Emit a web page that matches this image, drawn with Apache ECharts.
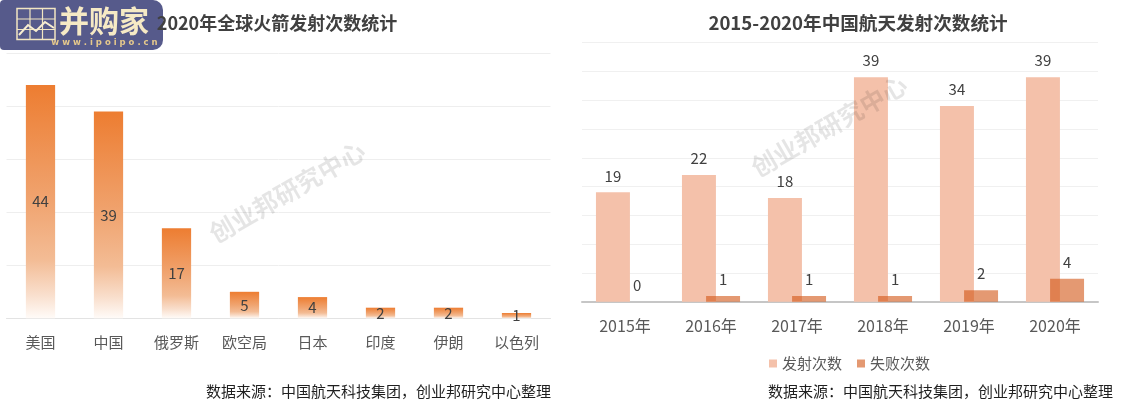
<!DOCTYPE html>
<html>
<head>
<meta charset="utf-8">
<style>
html,body{margin:0;padding:0;background:#fff;}
#main{width:1147px;height:407px;}
</style>
<script src="https://cdn.jsdelivr.net/npm/echarts@6/dist/echarts.min.js"></script>
</head>
<body>
<div id="main"></div>
<script>
// ---- data ----
var countries = ['美国', '中国', '俄罗斯', '欧空局', '日本', '印度', '伊朗', '以色列'];
var launches2020 = [44, 39, 17, 5, 4, 2, 2, 1];
var years = ['2015年', '2016年', '2017年', '2018年', '2019年', '2020年'];
var chinaLaunches = [19, 22, 18, 39, 34, 39];
var chinaFailures = [0, 1, 1, 1, 2, 4];
var titleLeft = '2020年全球火箭发射次数统计';
var titleRight = '2015-2020年中国航天发射次数统计';
var sourceText = '数据来源：中国航天科技集团，创业邦研究中心整理';
var watermark = '创业邦研究中心';

var FONT = '"Noto Sans CJK SC", "Noto Sans", sans-serif';
var chart = echarts.init(document.getElementById('main'), null, {renderer: 'canvas'});

var leftGradient = new echarts.graphic.LinearGradient(0, 0, 0, 1, [
  {offset: 0, color: '#ED7D31'},
  {offset: 0.5, color: '#F0A470'},
  {offset: 0.75, color: '#F3BC95'},
  {offset: 0.9, color: '#F9DFCD'},
  {offset: 1, color: '#FFFBF8'}
]);

var option = {
  backgroundColor: '#ffffff',
  textStyle: {fontFamily: FONT},
  animation: false,
  title: [
    {text: titleLeft, left: 277, top: 14, textAlign: 'center', padding: 0,
     textStyle: {fontSize: 18, fontWeight: 'bold', color: '#404040', fontFamily: FONT}},
    {text: titleRight, left: 858, top: 14, textAlign: 'center', padding: 0,
     textStyle: {fontSize: 18.6, fontWeight: 'bold', color: '#404040', fontFamily: FONT}}
  ],
  legend: {
    data: ['发射次数', '失败次数'],
    left: 764, top: 351,
    icon: 'rect', itemWidth: 8, itemHeight: 8, itemGap: 15,
    textStyle: {fontSize: 15, color: '#595959', fontFamily: FONT}
  },
  grid: [
    {left: 6.5, right: 596.5, top: 53.3, bottom: 88.7, containLabel: false},
    {left: 582, right: 49, top: 42.7, bottom: 105.3, containLabel: false}
  ],
  xAxis: [
    {type: 'category', gridIndex: 0, data: countries,
     axisLine: {lineStyle: {color: '#E3E3E3', width: 1}}, axisTick: {show: false},
     axisLabel: {fontSize: 15, color: '#595959', margin: 16, fontFamily: FONT}},
    {type: 'category', gridIndex: 1, data: years,
     axisLine: {lineStyle: {color: '#C6C6C6', width: 2}}, axisTick: {show: false},
     axisLabel: {fontSize: 16, color: '#595959', margin: 16, fontFamily: FONT}}
  ],
  yAxis: [
    {type: 'value', gridIndex: 0, min: 0, max: 50, interval: 10,
     axisLabel: {show: false}, axisLine: {show: false}, axisTick: {show: false},
     splitLine: {lineStyle: {color: '#EEEEEE'}}},
    {type: 'value', gridIndex: 1, min: 0, max: 45, interval: 5,
     axisLabel: {show: false}, axisLine: {show: false}, axisTick: {show: false},
     splitLine: {lineStyle: {color: '#F0F0F0'}}}
  ],
  series: [
    {name: '2020年发射次数', type: 'bar', xAxisIndex: 0, yAxisIndex: 0,
     data: launches2020, barWidth: '43%',
     itemStyle: {color: leftGradient},
     label: {show: true, position: 'inside', fontSize: 15, color: '#404040', fontFamily: FONT}},
    {name: '发射次数', type: 'bar', xAxisIndex: 1, yAxisIndex: 1,
     data: chinaLaunches, barWidth: '39.5%', barGap: '-29%',
     itemStyle: {color: '#F4C1AA'},
     label: {show: true, position: 'top', distance: 9, fontSize: 15, color: '#404040', fontFamily: FONT}},
    {name: '失败次数', type: 'bar', xAxisIndex: 1, yAxisIndex: 1,
     data: chinaFailures, barWidth: '39.5%', barGap: '-29%',
     itemStyle: {color: 'rgba(210,85,20,0.6)'},
     label: {show: true, position: 'top', distance: 9, fontSize: 15, color: '#404040', fontFamily: FONT}}
  ],
  graphic: [
    // watermarks
    {type: 'text', x: 287, y: 192, rotation: 30 * Math.PI / 180, z: 50, silent: true,
     style: {text: watermark, fontSize: 25, fontWeight: 'bold', fill: 'rgba(0,0,0,0.1)',
             align: 'center', verticalAlign: 'middle', fontFamily: FONT}},
    {type: 'text', x: 829, y: 126, rotation: 30 * Math.PI / 180, z: 50, silent: true,
     style: {text: watermark, fontSize: 25, fontWeight: 'bold', fill: 'rgba(0,0,0,0.1)',
             align: 'center', verticalAlign: 'middle', fontFamily: FONT}},
    // sources
    {type: 'text', x: 378.5, y: 391, z: 10,
     style: {text: sourceText, fontSize: 15, fill: '#1F1F1F', align: 'center', verticalAlign: 'middle', fontFamily: FONT}},
    {type: 'text', x: 940.5, y: 391, z: 10,
     style: {text: sourceText, fontSize: 15, fill: '#1F1F1F', align: 'center', verticalAlign: 'middle', fontFamily: FONT}},
    // logo
    {type: 'group', x: 0, y: 0, z: 100, children: [
      {type: 'rect', shape: {x: 0, y: 0, width: 163, height: 50, r: [4, 10, 10, 4]},
       style: {fill: '#565A8B'}},
      {type: 'rect', shape: {x: 17, y: 8.5, width: 38, height: 31},
       style: {fill: 'none', stroke: '#F2E6C2', lineWidth: 1.5}},
      {type: 'polyline', shape: {points: [[30, 8.5], [30, 39.5]]}, style: {stroke: '#F2E6C2', lineWidth: 1.2}},
      {type: 'polyline', shape: {points: [[42.5, 8.5], [42.5, 39.5]]}, style: {stroke: '#F2E6C2', lineWidth: 1.2}},
      {type: 'polyline', shape: {points: [[17, 19], [55, 19]]}, style: {stroke: '#F2E6C2', lineWidth: 1.2}},
      {type: 'polyline', shape: {points: [[17, 29.5], [55, 29.5]]}, style: {stroke: '#F2E6C2', lineWidth: 1.2}},
      {type: 'polyline', shape: {points: [[19, 35], [28, 25], [36, 31], [45, 22], [54, 28]]},
       style: {stroke: '#F7EDD0', lineWidth: 2, fill: 'none'}},
      {type: 'text', x: 104, y: 21,
       style: {text: '并购家', fontSize: 30, fontWeight: 'bold', fill: '#F6EAC5',
               align: 'center', verticalAlign: 'middle', fontFamily: FONT}},
      {type: 'text', x: 104.5, y: 42.5,
       style: {text: 'w w w . i p o i p o . c n', fontSize: 8.5, fontWeight: 'bold', fill: '#E6C98C',
               align: 'center', verticalAlign: 'middle', fontFamily: '"DejaVu Sans", sans-serif'}}
    ]}
  ]
};
chart.setOption(option);
</script>
</body>
</html>
